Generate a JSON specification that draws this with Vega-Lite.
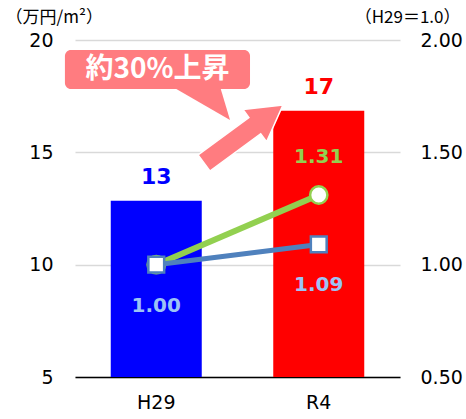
{
  "$schema": "https://vega.github.io/schema/vega-lite/v6.json",
  "width": 325,
  "height": 337,
  "autosize": {"type": "none"},
  "padding": {"left": 75, "top": 40, "right": 66, "bottom": 42},
  "config": {"view": {"stroke": null}},
  "datasets": {
    "bars": [
      {"year": "H29", "price": 12.85},
      {"year": "R4", "price": 16.85}
    ],
    "idx": [
      {"year": "H29", "series": "s1", "index": 1.00},
      {"year": "R4", "series": "s1", "index": 1.31},
      {"year": "H29", "series": "s2", "index": 1.00},
      {"year": "R4", "series": "s2", "index": 1.09}
    ],
    "note": [{"label": "約30%上昇"}]
  },
  "layer": [
    {
      "data": {"name": "bars"},
      "mark": {"type": "bar"},
      "encoding": {
        "x": {"field": "year", "type": "nominal",
          "scale": {"type": "band", "domain": ["H29", "R4"], "paddingInner": 0.44, "paddingOuter": 0.22},
          "axis": {"title": null, "labelAngle": 0, "ticks": false, "domainColor": "#000000", "domainWidth": 1.5,
            "labelFont": "DejaVu Sans", "labelFontSize": 19, "labelColor": "#000000", "labelPadding": 16, "grid": false}},
        "y": {"field": "price", "type": "quantitative",
          "scale": {"domain": [5, 20], "nice": false, "zero": false},
          "axis": {"values": [5, 10, 15, 20], "ticks": false, "domain": false, "grid": true, "gridColor": "#D9D9D9", "gridWidth": 1.5,
            "labelFont": "DejaVu Sans", "labelFontSize": 19, "labelColor": "#000000", "labelPadding": 22,
            "title": "（万円/m²）", "titleAngle": 0, "titleAlign": "left", "titleBaseline": "middle", "titleX": -70, "titleY": -23,
            "titleFont": "Noto Sans CJK JP", "titleFontSize": 17, "titleFontWeight": "normal", "titleColor": "#000000"}},
        "y2": {"datum": 5},
        "color": {"field": "year", "type": "nominal", "scale": {"domain": ["H29", "R4"], "range": ["#0000FF", "#FF0000"]}, "legend": null}
      }
    },
    {
      "data": {"name": "bars"},
      "mark": {"type": "text", "font": "DejaVu Sans", "fontWeight": "bold", "fontSize": 22, "baseline": "middle", "dy": -24},
      "encoding": {
        "x": {"field": "year", "type": "nominal", "scale": {"type": "band", "domain": ["H29", "R4"], "paddingInner": 0.44, "paddingOuter": 0.22}, "axis": null},
        "y": {"field": "price", "type": "quantitative", "scale": {"domain": [5, 20], "nice": false, "zero": false}, "axis": null},
        "text": {"field": "price", "type": "quantitative", "format": ".0f"},
        "color": {"field": "year", "type": "nominal", "scale": {"domain": ["H29", "R4"], "range": ["#0000FF", "#FF0000"]}, "legend": null}
      }
    },
    {
      "data": {"name": "note"},
      "mark": {"type": "point", "shape": "M-0.931,0.42 L-0.669,0.78 L0.46,-0.049 L0.591,0.129 L0.956,-0.689 L0.067,-0.587 L0.198,-0.409 Z",
        "filled": true, "fill": "#FF7C80", "stroke": "#FFFFFF", "strokeWidth": 1.5, "size": 8100, "opacity": 1},
      "encoding": {
        "x": {"datum": 1.0154, "type": "quantitative", "scale": {"domain": [0, 2], "nice": false, "zero": false}, "axis": null},
        "y": {"datum": 15.73, "type": "quantitative", "scale": {"domain": [5, 20], "nice": false, "zero": false}, "axis": null}
      }
    },
    {
      "data": {"name": "note"},
      "mark": {"type": "point", "shape": "M-0.967,-0.6 L0.633,-0.6 L0.967,0.517 Z",
        "filled": true, "fill": "#FF7C80", "strokeWidth": 0, "size": 3600, "opacity": 1},
      "encoding": {
        "x": {"datum": 0.7754, "type": "quantitative", "scale": {"domain": [0, 2], "nice": false, "zero": false}, "axis": null},
        "y": {"datum": 17.13, "type": "quantitative", "scale": {"domain": [5, 20], "nice": false, "zero": false}, "axis": null}
      }
    },
    {
      "data": {"name": "note"},
      "mark": {"type": "rect", "fill": "#FF7C80", "cornerRadius": 6},
      "encoding": {
        "x": {"datum": -0.062, "type": "quantitative", "scale": {"domain": [0, 2], "nice": false, "zero": false}, "axis": null},
        "x2": {"datum": 1.077},
        "y": {"datum": 19.555, "type": "quantitative", "scale": {"domain": [5, 20], "nice": false, "zero": false}, "axis": null},
        "y2": {"datum": 17.82}
      }
    },
    {
      "data": {"name": "note"},
      "mark": {"type": "text", "font": "Noto Sans CJK JP", "fontWeight": "bold", "fontSize": 28, "color": "#FFFFFF", "align": "center", "baseline": "middle"},
      "encoding": {
        "x": {"datum": 0.508, "type": "quantitative", "scale": {"domain": [0, 2], "nice": false, "zero": false}, "axis": null},
        "y": {"datum": 18.665, "type": "quantitative", "scale": {"domain": [5, 20], "nice": false, "zero": false}, "axis": null},
        "text": {"field": "label"}
      }
    },
    {
      "data": {"name": "idx"},
      "transform": [{"filter": "datum.series === 's1'"}],
      "mark": {"type": "line", "color": "#92D050", "strokeWidth": 6},
      "encoding": {
        "x": {"field": "year", "type": "nominal", "scale": {"type": "band", "domain": ["H29", "R4"], "paddingInner": 0.44, "paddingOuter": 0.22}, "axis": null},
        "y": {"field": "index", "type": "quantitative",
          "scale": {"domain": [0.5, 2.0], "nice": false, "zero": false},
          "axis": {"orient": "right", "values": [0.5, 1.0, 1.5, 2.0], "format": ".2f", "ticks": false, "domain": false, "grid": false,
            "labelFont": "DejaVu Sans", "labelFontSize": 19, "labelColor": "#000000", "labelPadding": 20,
            "title": "（H29＝1.0）", "titleAngle": 0, "titleAlign": "right", "titleBaseline": "middle", "titleX": 60, "titleY": -23,
            "titleFont": "Noto Sans CJK JP", "titleFontSize": 17, "titleFontWeight": "normal", "titleColor": "#000000"}}
      }
    },
    {
      "data": {"name": "idx"},
      "transform": [{"filter": "datum.series === 's1'"}],
      "mark": {"type": "point", "shape": "circle", "filled": true, "fill": "#FFFFFF", "stroke": "#92D050", "strokeWidth": 2.5, "size": 300, "opacity": 1},
      "encoding": {
        "x": {"field": "year", "type": "nominal", "scale": {"type": "band", "domain": ["H29", "R4"], "paddingInner": 0.44, "paddingOuter": 0.22}, "axis": null},
        "y": {"field": "index", "type": "quantitative", "scale": {"domain": [0.5, 2.0], "nice": false, "zero": false}, "axis": null}
      }
    },
    {
      "data": {"name": "idx"},
      "transform": [{"filter": "datum.series === 's2'"}],
      "mark": {"type": "line", "color": "#4F81BD", "strokeWidth": 5},
      "encoding": {
        "x": {"field": "year", "type": "nominal", "scale": {"type": "band", "domain": ["H29", "R4"], "paddingInner": 0.44, "paddingOuter": 0.22}, "axis": null},
        "y": {"field": "index", "type": "quantitative", "scale": {"domain": [0.5, 2.0], "nice": false, "zero": false}, "axis": null}
      }
    },
    {
      "data": {"name": "idx"},
      "transform": [{"filter": "datum.series === 's2'"}],
      "mark": {"type": "point", "shape": "square", "filled": true, "fill": "#FFFFFF", "stroke": "#4F81BD", "strokeWidth": 2.5, "size": 250, "opacity": 1},
      "encoding": {
        "x": {"field": "year", "type": "nominal", "scale": {"type": "band", "domain": ["H29", "R4"], "paddingInner": 0.44, "paddingOuter": 0.22}, "axis": null},
        "y": {"field": "index", "type": "quantitative", "scale": {"domain": [0.5, 2.0], "nice": false, "zero": false}, "axis": null}
      }
    },
    {
      "data": {"name": "idx"},
      "transform": [{"filter": "datum.series === 's1' && datum.year === 'R4'"}],
      "mark": {"type": "text", "font": "DejaVu Sans", "fontWeight": "bold", "fontSize": 20, "baseline": "middle", "dy": -38, "color": "#92D050"},
      "encoding": {
        "x": {"field": "year", "type": "nominal", "scale": {"type": "band", "domain": ["H29", "R4"], "paddingInner": 0.44, "paddingOuter": 0.22}, "axis": null},
        "y": {"field": "index", "type": "quantitative", "scale": {"domain": [0.5, 2.0], "nice": false, "zero": false}, "axis": null},
        "text": {"field": "index", "type": "quantitative", "format": ".2f"}
      }
    },
    {
      "data": {"name": "idx"},
      "transform": [{"filter": "datum.series === 's2'"}],
      "mark": {"type": "text", "font": "DejaVu Sans", "fontWeight": "bold", "fontSize": 20, "baseline": "middle", "dy": 41, "color": "#9DC3F5"},
      "encoding": {
        "x": {"field": "year", "type": "nominal", "scale": {"type": "band", "domain": ["H29", "R4"], "paddingInner": 0.44, "paddingOuter": 0.22}, "axis": null},
        "y": {"field": "index", "type": "quantitative", "scale": {"domain": [0.5, 2.0], "nice": false, "zero": false}, "axis": null},
        "text": {"field": "index", "type": "quantitative", "format": ".2f"}
      }
    }
  ],
  "resolve": {"scale": {"x": "independent", "y": "independent", "color": "independent"}}
}
